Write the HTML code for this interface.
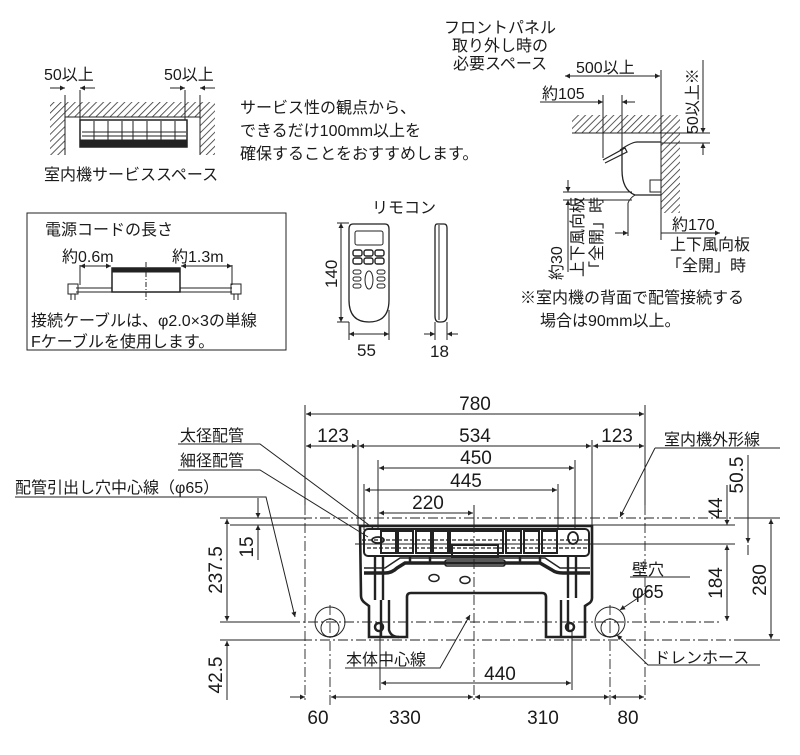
<!DOCTYPE html>
<html><head><meta charset="utf-8"><style>
html,body{margin:0;padding:0;background:#fff}
svg text{font-family:"Liberation Sans","Noto Sans CJK JP",sans-serif;fill:#1a1a1a}
</style></head><body>
<svg width="800" height="750" viewBox="0 0 800 750" xmlns="http://www.w3.org/2000/svg">
<defs>
<pattern id="h" width="5" height="5" patternUnits="userSpaceOnUse" patternTransform="rotate(45)"><rect width="5" height="5" fill="#fff"/><line x1="0" y1="0" x2="0" y2="5" stroke="#333" stroke-width="1.6"/></pattern>
<marker id="a" viewBox="0 0 10 10" refX="10" refY="5" markerWidth="9" markerHeight="5" orient="auto-start-reverse" markerUnits="userSpaceOnUse"><path d="M0,0L10,5L0,10z" fill="#222"/></marker>
</defs>
<g stroke="#222" stroke-width="1" fill="none">
<rect x="50" y="102" width="165" height="15" fill="url(#h)" stroke="none"/>
<rect x="50" y="117" width="15" height="38" fill="url(#h)" stroke="none"/>
<rect x="200" y="117" width="15" height="38" fill="url(#h)" stroke="none"/>
<path d="M65,155V117H200V155"/>
<rect x="80" y="120" width="107" height="27" stroke-width="1.5"/>
<rect x="81" y="140" width="105" height="7" fill="#222"/>
<path d="M94,121V140M108,121V140M122,121V140M133,121V145M147,121V140M161,121V140M175,121V140M82,132H186M82,136H186"/>
<line x1="65" y1="95" x2="65" y2="117"/><line x1="80" y1="90" x2="80" y2="120"/>
<line x1="185" y1="90" x2="185" y2="120"/><line x1="200" y1="95" x2="200" y2="117"/>
<line x1="50" y1="88" x2="65" y2="88" marker-end="url(#a)"/><line x1="95" y1="88" x2="80" y2="88" marker-end="url(#a)"/>
<line x1="170" y1="88" x2="185" y2="88" marker-end="url(#a)"/><line x1="215" y1="88" x2="200" y2="88" marker-end="url(#a)"/>
<rect x="27" y="213" width="259" height="137"/>
<rect x="112" y="268" width="68" height="24" stroke-width="1.5"/>
<rect x="113" y="269" width="66" height="3" fill="#222"/>
<line x1="146" y1="262" x2="146" y2="300" stroke-dasharray="5,2,1,2"/>
<path d="M76,288H112M76,292H112M180,288H232M180,292H232"/>
<rect x="68" y="284" width="10" height="10"/><rect x="231" y="284" width="10" height="10"/>
<path d="M71,294V300M75,294V300M234,294V300M238,294V300"/>
<line x1="80" y1="265" x2="80" y2="285"/><line x1="232" y1="265" x2="232" y2="285"/>
<line x1="80" y1="266" x2="111" y2="266" marker-start="url(#a)" marker-end="url(#a)"/>
<line x1="181" y1="266" x2="232" y2="266" marker-start="url(#a)" marker-end="url(#a)"/>
<path d="M353,224H385Q389,224 389,229V300Q389,322 369,322Q349,322 349,300V229Q349,224 353,224Z" stroke-width="1.3"/>
<rect x="355" y="231" width="28" height="14" rx="2"/>
<g stroke-width="1.4"><rect x="353" y="250" width="9" height="6" rx="2"/><rect x="364" y="250" width="9" height="6" rx="2"/><rect x="375" y="250" width="9" height="6" rx="2"/>
<rect x="353" y="258" width="9" height="6" rx="2"/><rect x="364" y="258" width="9" height="6" rx="2"/><rect x="375" y="258" width="9" height="6" rx="2"/></g>
<ellipse cx="369" cy="280" rx="4" ry="9"/>
<rect x="353" y="270" width="8" height="4" rx="2"/><rect x="353" y="277" width="8" height="4" rx="2"/><rect x="353" y="284" width="8" height="4" rx="2"/>
<rect x="377" y="270" width="8" height="4" rx="2"/><rect x="377" y="277" width="8" height="4" rx="2"/><rect x="377" y="284" width="8" height="4" rx="2"/>
<path d="M437,224H444Q447,224 447,228V316Q447,322 441,322H439Q435,322 435,316V228Q435,224 437,224Z" stroke-width="1.3"/>
<line x1="439" y1="225" x2="439" y2="320"/>
<line x1="337" y1="223" x2="349" y2="223"/><line x1="337" y1="322" x2="349" y2="322"/>
<line x1="341" y1="223" x2="341" y2="322" marker-start="url(#a)" marker-end="url(#a)"/>
<line x1="349" y1="322" x2="349" y2="340"/><line x1="389" y1="310" x2="389" y2="340"/>
<line x1="349" y1="334" x2="389" y2="334" marker-start="url(#a)" marker-end="url(#a)"/>
<line x1="435" y1="322" x2="435" y2="340"/><line x1="447" y1="322" x2="447" y2="340"/>
<line x1="424" y1="334" x2="435" y2="334" marker-end="url(#a)"/><line x1="458" y1="334" x2="447" y2="334" marker-end="url(#a)"/>
<rect x="572" y="115" width="108" height="18" fill="url(#h)" stroke="none"/>
<rect x="661" y="133" width="19" height="80" fill="url(#h)" stroke="none"/>
<path d="M572,133H661V213"/>
<path d="M661,142H637Q632,142 620,150" stroke-width="1.2"/>
<path d="M622,150V170Q622,190 635,195H661" stroke-width="1.3"/>
<path d="M603,160L625,148L627,152L605,163" stroke-width="1.2"/>
<rect x="650" y="180" width="11" height="12"/>
<path d="M635,195Q630,198 628,203V236"/>
<line x1="661" y1="70" x2="661" y2="133"/>
<line x1="565" y1="76" x2="660" y2="76" marker-start="url(#a)" marker-end="url(#a)"/>
<line x1="603" y1="95" x2="603" y2="158"/><line x1="622" y1="95" x2="622" y2="150"/>
<line x1="540" y1="102" x2="603" y2="102" marker-end="url(#a)"/><line x1="635" y1="102" x2="622" y2="102" marker-end="url(#a)"/>
<line x1="661" y1="133" x2="710" y2="133"/><line x1="661" y1="143" x2="710" y2="143"/>
<line x1="703" y1="60" x2="703" y2="133" marker-end="url(#a)"/><line x1="703" y1="155" x2="703" y2="143" marker-end="url(#a)"/>
<line x1="563" y1="192" x2="632" y2="192"/><line x1="563" y1="200" x2="632" y2="200"/>
<line x1="568" y1="180" x2="568" y2="192" marker-end="url(#a)"/><line x1="568" y1="272" x2="568" y2="200" marker-end="url(#a)"/>
<line x1="661" y1="213" x2="661" y2="240"/>
<line x1="615" y1="233" x2="628" y2="233" marker-end="url(#a)"/><line x1="720" y1="233" x2="661" y2="233" marker-start="url(#a)"/>
<g stroke-dasharray="10,3,2,3" stroke-width="0.9">
<line x1="230" y1="518" x2="740" y2="518"/><line x1="230" y1="640" x2="740" y2="640"/>
<line x1="290" y1="622" x2="720" y2="622"/>
<line x1="305" y1="505" x2="305" y2="700"/><line x1="645" y1="505" x2="645" y2="700"/>
<line x1="474" y1="505" x2="474" y2="700"/>
<line x1="330" y1="605" x2="330" y2="705"/><line x1="610" y1="605" x2="610" y2="705"/>
</g>
<line x1="230" y1="525" x2="735" y2="525"/>
<line x1="355" y1="544" x2="735" y2="544"/>
<circle cx="330" cy="622" r="15"/><circle cx="330" cy="628" r="9"/>
<circle cx="610" cy="622" r="15"/><circle cx="610" cy="628" r="9"/>
<!-- body -->
<path d="M360,526H592V598Q592,602 588,604L585,606V637H546V597Q546,593 542,593H411Q407,593 407,597V637H369V606L365,603Q361,600 361,596Z" stroke-width="2.6"/>
<rect x="364" y="529" width="225" height="27" stroke-width="2" rx="4"/>
<g stroke-width="2">
<rect x="381" y="531" width="15" height="22"/><rect x="398" y="531" width="15" height="22"/><rect x="416" y="531" width="15" height="22"/><rect x="433" y="531" width="15" height="22"/>
<rect x="450" y="531" width="53" height="22"/>
<rect x="506" y="531" width="15" height="22"/><rect x="524" y="531" width="15" height="22"/><rect x="542" y="531" width="15" height="22"/>
</g>
<path d="M362,540H590M367,548H588" stroke-width="1.2" stroke-dasharray="4,2"/>
<path d="M364,573H385Q392,573 397,568L405,563H540L552,570Q556,573 563,573H590" stroke-width="3.5"/>
<path d="M364,568H385L400,558H545L560,568H590" stroke-width="1.5"/>
<path d="M375,556V600M383,556V600M568,556V598M576,556V598M381,600V637M389,600V630Q391,637 399,637M561,600V637M568,600V630" stroke-width="2.4"/>
<path d="M410,556V563M430,556V563M520,556V563M540,556V563" stroke-width="2.5"/>
<rect x="452" y="545" width="46" height="12" stroke-width="2"/>
<rect x="445" y="560" width="60" height="6" rx="2" stroke-width="1.6"/>
<ellipse cx="434" cy="578" rx="5" ry="3.5" stroke-width="1.5"/><ellipse cx="465" cy="580" rx="5" ry="3.5" stroke-width="1.5"/>
<circle cx="379" cy="627" r="4" stroke-width="2.5"/><circle cx="570" cy="627" r="4" stroke-width="2.5"/>
<ellipse cx="378" cy="540" rx="6" ry="3" stroke-width="1.8"/><ellipse cx="573" cy="538" rx="5" ry="6" stroke-width="1.8"/>
<line x1="305" y1="405" x2="305" y2="505"/><line x1="645" y1="405" x2="645" y2="505"/>
<line x1="358" y1="440" x2="358" y2="526"/><line x1="592" y1="440" x2="592" y2="526"/>
<line x1="378" y1="460" x2="378" y2="530"/><line x1="575" y1="460" x2="575" y2="530"/>
<line x1="364" y1="484" x2="364" y2="530"/><line x1="558" y1="484" x2="558" y2="530"/>
<line x1="474" y1="505" x2="474" y2="526"/>
<line x1="306" y1="414" x2="644" y2="414" marker-start="url(#a)" marker-end="url(#a)"/>
<line x1="306" y1="446" x2="357" y2="446" marker-start="url(#a)" marker-end="url(#a)"/>
<line x1="359" y1="446" x2="591" y2="446" marker-start="url(#a)" marker-end="url(#a)"/>
<line x1="593" y1="446" x2="644" y2="446" marker-start="url(#a)" marker-end="url(#a)"/>
<line x1="379" y1="468" x2="574" y2="468" marker-start="url(#a)" marker-end="url(#a)"/>
<line x1="365" y1="490" x2="557" y2="490" marker-start="url(#a)" marker-end="url(#a)"/>
<line x1="379" y1="513" x2="473" y2="513" marker-start="url(#a)" marker-end="url(#a)"/>
<line x1="380" y1="630" x2="380" y2="690"/><line x1="572" y1="630" x2="572" y2="690"/>
<line x1="381" y1="683" x2="571" y2="683" marker-start="url(#a)" marker-end="url(#a)"/>
<line x1="290" y1="697" x2="305" y2="697" marker-end="url(#a)"/><line x1="345" y1="697" x2="331" y2="697" marker-end="url(#a)"/>
<line x1="331" y1="697" x2="473" y2="697" marker-end="url(#a)"/>
<line x1="475" y1="697" x2="609" y2="697" marker-start="url(#a)" marker-end="url(#a)"/>
<line x1="611" y1="697" x2="644" y2="697" marker-start="url(#a)" marker-end="url(#a)"/>
<line x1="727" y1="485" x2="727" y2="525" marker-end="url(#a)"/>
<line x1="727" y1="545" x2="727" y2="621" marker-start="url(#a)" marker-end="url(#a)"/>
<line x1="748" y1="455" x2="748" y2="543" marker-end="url(#a)"/><line x1="748" y1="555" x2="748" y2="545"/>
<line x1="740" y1="518" x2="780" y2="518"/><line x1="740" y1="640" x2="780" y2="640"/>
<line x1="771" y1="519" x2="771" y2="639" marker-start="url(#a)" marker-end="url(#a)"/>
<line x1="220" y1="518" x2="305" y2="518"/><line x1="220" y1="640" x2="305" y2="640"/>
<line x1="220" y1="622" x2="296" y2="622"/>
<line x1="227" y1="519" x2="227" y2="621" marker-start="url(#a)" marker-end="url(#a)"/>
<line x1="227" y1="700" x2="227" y2="641" marker-end="url(#a)"/>
<line x1="258" y1="498" x2="258" y2="518" marker-end="url(#a)"/>
<line x1="258" y1="560" x2="258" y2="525" marker-end="url(#a)"/>
<path d="M178,444H260L373,528"/><path d="M178,470H260L368,537"/>
<path d="M15,497H266L295,617" marker-end="url(#a)"/>
<path d="M655,448H780M655,448L620,517" marker-end="url(#a)"/>
<path d="M650,590L620,610" marker-end="url(#a)"/><line x1="630" y1="577" x2="690" y2="577"/>
<path d="M760,665H648L617,635" marker-end="url(#a)"/>
<path d="M345,668H440L470,615" marker-end="url(#a)"/>
</g>
<g font-size="16">
<text x="44" y="80">50以上</text><text x="164" y="80">50以上</text>
<text x="44" y="180">室内機サービススペース</text>
<text x="240" y="113">サービス性の観点から、</text>
<text x="240" y="136">できるだけ100mm以上を</text>
<text x="240" y="159">確保することをおすすめします。</text>
<text x="45" y="235">電源コードの長さ</text>
<text x="62" y="262">約0.6m</text><text x="172" y="262">約1.3m</text>
<text x="31" y="326">接続ケーブルは、φ2.0×3の単線</text>
<text x="31" y="347">Fケーブルを使用します。</text>
<text x="372" y="213">リモコン</text>
<text x="357" y="356" font-size="17">55</text><text x="430" y="357" font-size="17">18</text>
<text transform="translate(337,288) rotate(-90)" font-size="17">140</text>
<text x="500" y="33" text-anchor="middle">フロントパネル</text>
<text x="500" y="51" text-anchor="middle">取り外し時の</text>
<text x="500" y="69" text-anchor="middle">必要スペース</text>
<text x="576" y="73">500以上</text>
<text x="542" y="99">約105</text>
<text transform="translate(698,134) rotate(-90)">50以上※</text>
<text x="672" y="230">約170</text>
<text x="670" y="250">上下風向板</text>
<text x="666" y="271">「全開」時</text>
<text transform="translate(562,280) rotate(-90)">約30</text>
<text transform="translate(583,277) rotate(-90)">上下風向板</text>
<text transform="translate(602,277) rotate(-90)">「全開」時</text>
<text x="520" y="303">※室内機の背面で配管接続する</text>
<text x="540" y="326">場合は90mm以上。</text>
<text x="180" y="441">太径配管</text><text x="180" y="466">細径配管</text>
<text x="15" y="493">配管引出し穴中心線（φ65）</text>
<text x="664" y="445">室内機外形線</text>
<text x="632" y="575">壁穴</text><text x="632" y="598" font-size="18">φ65</text>
<text x="654" y="663">ドレンホース</text>
<text x="346" y="665">本体中心線</text>
</g>
<g font-size="19">
<text x="475" y="410" text-anchor="middle">780</text>
<text x="333" y="442" text-anchor="middle">123</text>
<text x="475" y="442" text-anchor="middle">534</text>
<text x="617" y="442" text-anchor="middle">123</text>
<text x="476" y="464" text-anchor="middle">450</text>
<text x="466" y="487" text-anchor="middle">445</text>
<text x="428" y="509" text-anchor="middle">220</text>
<text x="500" y="680" text-anchor="middle">440</text>
<text x="318" y="724" text-anchor="middle">60</text>
<text x="405" y="724" text-anchor="middle">330</text>
<text x="543" y="724" text-anchor="middle">310</text>
<text x="628" y="724" text-anchor="middle">80</text>
<text transform="translate(722,508) rotate(-90)" text-anchor="middle">44</text>
<text transform="translate(743,475) rotate(-90)" text-anchor="middle">50.5</text>
<text transform="translate(722,583) rotate(-90)" text-anchor="middle">184</text>
<text transform="translate(766,580) rotate(-90)" text-anchor="middle">280</text>
<text transform="translate(222,570) rotate(-90)" text-anchor="middle">237.5</text>
<text transform="translate(222,675) rotate(-90)" text-anchor="middle">42.5</text>
<text transform="translate(253,547) rotate(-90)" text-anchor="middle">15</text>
</g>
</svg>
</body></html>
